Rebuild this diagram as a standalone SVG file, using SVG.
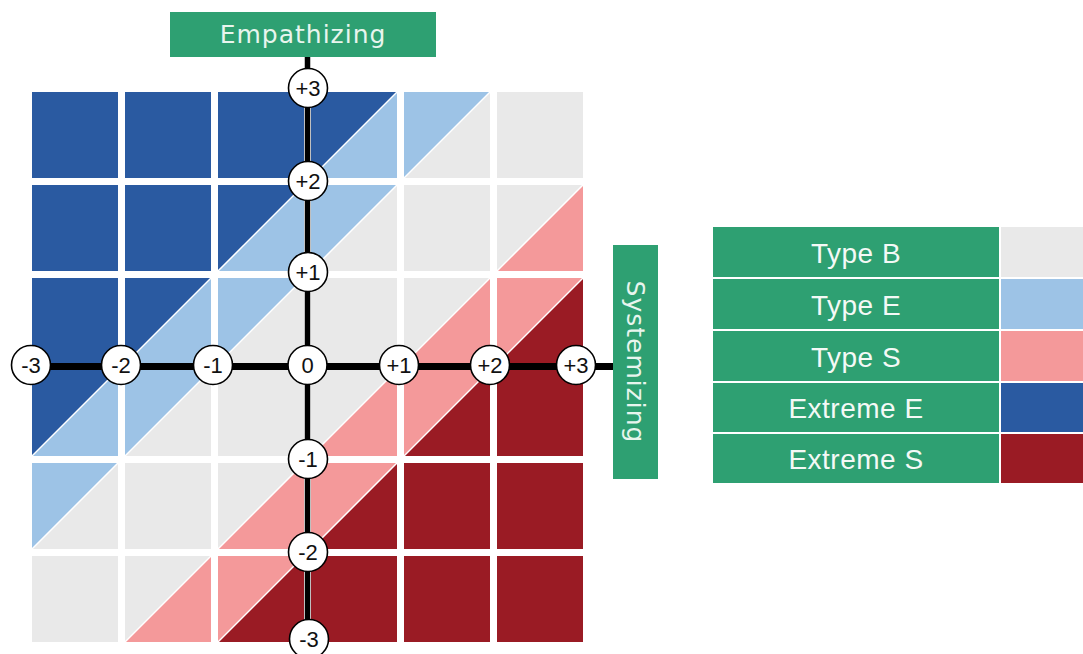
<svg xmlns="http://www.w3.org/2000/svg" width="1083" height="654" viewBox="0 0 1083 654">
<defs>
<style>
.db{fill:#2a5aa1}
.lb{fill:#9dc3e6}
.g{fill:#e9e9e9}
.p{fill:#f4999a}
.dr{fill:#9a1b24}
.diag{stroke:#ffffff;stroke-width:1.5}
.hdr{fill:#2ea072}
.hdrt{font-family:"DejaVu Sans",sans-serif;font-size:25px;fill:#e8f5ee;letter-spacing:1px;text-anchor:middle}
.ax{stroke:#000;fill:none}
.lbl circle{fill:#fff;stroke:#000;stroke-width:1.6}
.lbl text{font-family:"Liberation Sans",Arial,sans-serif;font-size:22px;fill:#111;text-anchor:middle}
.leg{fill:#2ea072}
.legt{font-family:"Liberation Sans",Arial,sans-serif;font-size:28px;fill:#f4f9f6;text-anchor:middle;letter-spacing:0.5px}
</style>
</defs>
<rect width="1083" height="654" fill="#ffffff"/>

<g id="grid">
<!-- row 0 -->
<rect class="db" x="32" y="92" width="86" height="86"/>
<rect class="db" x="125" y="92" width="86" height="86"/>
<rect class="db" x="218" y="92" width="86" height="86"/>
<rect class="lb" x="311" y="92" width="86" height="86"/><polygon class="db" points="311,92 397,92 311,178"/><line class="diag" x1="311" y1="178" x2="397" y2="92"/>
<rect class="g" x="404" y="92" width="86" height="86"/><polygon class="lb" points="404,92 490,92 404,178"/><line class="diag" x1="404" y1="178" x2="490" y2="92"/>
<rect class="g" x="497" y="92" width="86" height="86"/>
<!-- row 1 -->
<rect class="db" x="32" y="185" width="86" height="86"/>
<rect class="db" x="125" y="185" width="86" height="86"/>
<rect class="lb" x="218" y="185" width="86" height="86"/><polygon class="db" points="218,185 304,185 218,271"/><line class="diag" x1="218" y1="271" x2="304" y2="185"/>
<rect class="g" x="311" y="185" width="86" height="86"/><polygon class="lb" points="311,185 397,185 311,271"/><line class="diag" x1="311" y1="271" x2="397" y2="185"/>
<rect class="g" x="404" y="185" width="86" height="86"/>
<rect class="p" x="497" y="185" width="86" height="86"/><polygon class="g" points="497,185 583,185 497,271"/><line class="diag" x1="497" y1="271" x2="583" y2="185"/>
<!-- row 2 -->
<rect class="db" x="32" y="278" width="86" height="86"/>
<rect class="lb" x="125" y="278" width="86" height="86"/><polygon class="db" points="125,278 211,278 125,364"/><line class="diag" x1="125" y1="364" x2="211" y2="278"/>
<rect class="g" x="218" y="278" width="86" height="86"/><polygon class="lb" points="218,278 304,278 218,364"/><line class="diag" x1="218" y1="364" x2="304" y2="278"/>
<rect class="g" x="311" y="278" width="86" height="86"/>
<rect class="p" x="404" y="278" width="86" height="86"/><polygon class="g" points="404,278 490,278 404,364"/><line class="diag" x1="404" y1="364" x2="490" y2="278"/>
<rect class="dr" x="497" y="278" width="86" height="86"/><polygon class="p" points="497,278 583,278 497,364"/><line class="diag" x1="497" y1="364" x2="583" y2="278"/>
<!-- row 3 -->
<rect class="lb" x="32" y="370" width="86" height="86"/><polygon class="db" points="32,370 118,370 32,456"/><line class="diag" x1="32" y1="456" x2="118" y2="370"/>
<rect class="g" x="125" y="370" width="86" height="86"/><polygon class="lb" points="125,370 211,370 125,456"/><line class="diag" x1="125" y1="456" x2="211" y2="370"/>
<rect class="g" x="218" y="370" width="86" height="86"/>
<rect class="p" x="311" y="370" width="86" height="86"/><polygon class="g" points="311,370 397,370 311,456"/><line class="diag" x1="311" y1="456" x2="397" y2="370"/>
<rect class="dr" x="404" y="370" width="86" height="86"/><polygon class="p" points="404,370 490,370 404,456"/><line class="diag" x1="404" y1="456" x2="490" y2="370"/>
<rect class="dr" x="497" y="370" width="86" height="86"/>
<!-- row 4 -->
<rect class="g" x="32" y="463" width="86" height="86"/><polygon class="lb" points="32,463 118,463 32,549"/><line class="diag" x1="32" y1="549" x2="118" y2="463"/>
<rect class="g" x="125" y="463" width="86" height="86"/>
<rect class="p" x="218" y="463" width="86" height="86"/><polygon class="g" points="218,463 304,463 218,549"/><line class="diag" x1="218" y1="549" x2="304" y2="463"/>
<rect class="dr" x="311" y="463" width="86" height="86"/><polygon class="p" points="311,463 397,463 311,549"/><line class="diag" x1="311" y1="549" x2="397" y2="463"/>
<rect class="dr" x="404" y="463" width="86" height="86"/>
<rect class="dr" x="497" y="463" width="86" height="86"/>
<!-- row 5 -->
<rect class="g" x="32" y="556" width="86" height="86"/>
<rect class="p" x="125" y="556" width="86" height="86"/><polygon class="g" points="125,556 211,556 125,642"/><line class="diag" x1="125" y1="642" x2="211" y2="556"/>
<rect class="dr" x="218" y="556" width="86" height="86"/><polygon class="p" points="218,556 304,556 218,642"/><line class="diag" x1="218" y1="642" x2="304" y2="556"/>
<rect class="dr" x="311" y="556" width="86" height="86"/>
<rect class="dr" x="404" y="556" width="86" height="86"/>
<rect class="dr" x="497" y="556" width="86" height="86"/>
</g>

<g id="connectors">
<line class="ax" x1="307.5" y1="57" x2="307.5" y2="654" stroke-width="5.5"/>
<line class="ax" x1="32" y1="366.5" x2="613" y2="366.5" stroke-width="7"/>
</g>

<g id="empathizing">
<rect class="hdr" x="170" y="12" width="266" height="45"/>
<text class="hdrt" x="303" y="43">Empathizing</text>
</g>

<g id="systemizing">
<rect class="hdr" x="613" y="245" width="45" height="234"/>
<text class="hdrt" transform="translate(627,362) rotate(90)" x="0" y="0">Systemizing</text>
</g>

<g id="axis-labels" class="lbl">
<g id="v-p3"><circle cx="308" cy="88" r="19.5"/><text x="308" y="96">+3</text></g>
<g id="v-p2"><circle cx="308" cy="181" r="19.5"/><text x="308" y="189">+2</text></g>
<g id="v-p1"><circle cx="308" cy="272" r="19.5"/><text x="308" y="280">+1</text></g>
<g id="v-m1"><circle cx="308" cy="459" r="19.5"/><text x="308" y="467">-1</text></g>
<g id="v-m2"><circle cx="308" cy="552" r="19.5"/><text x="308" y="560">-2</text></g>
<g id="v-m3"><circle cx="309" cy="639" r="19.5"/><text x="309" y="647">-3</text></g>
<g id="h-m3"><circle cx="31" cy="365" r="19.5"/><text x="31" y="373">-3</text></g>
<g id="h-m2"><circle cx="121" cy="365" r="19.5"/><text x="121" y="373">-2</text></g>
<g id="h-m1"><circle cx="213" cy="365" r="19.5"/><text x="213" y="373">-1</text></g>
<g id="h-0"><circle cx="307.5" cy="365" r="19.5"/><text x="307.5" y="373">0</text></g>
<g id="h-p1"><circle cx="399" cy="365" r="19.5"/><text x="399" y="373">+1</text></g>
<g id="h-p2"><circle cx="490" cy="365" r="19.5"/><text x="490" y="373">+2</text></g>
<g id="h-p3"><circle cx="576" cy="365" r="19.5"/><text x="576" y="373">+3</text></g>
</g>

<g id="legend">
<g id="leg-typeb"><rect class="leg" x="713" y="227" width="286" height="50"/><rect class="g" x="1001" y="227" width="82" height="50"/><text class="legt" x="856" y="263">Type B</text></g>
<g id="leg-typee"><rect class="leg" x="713" y="279" width="286" height="50"/><rect class="lb" x="1001" y="279" width="82" height="50"/><text class="legt" x="856" y="315">Type E</text></g>
<g id="leg-types"><rect class="leg" x="713" y="331" width="286" height="50"/><rect class="p" x="1001" y="331" width="82" height="50"/><text class="legt" x="856" y="367">Type S</text></g>
<g id="leg-extremee"><rect class="leg" x="713" y="383" width="286" height="49"/><rect class="db" x="1001" y="383" width="82" height="49"/><text class="legt" x="856" y="418">Extreme E</text></g>
<g id="leg-extremes"><rect class="leg" x="713" y="434" width="286" height="49"/><rect class="dr" x="1001" y="434" width="82" height="49"/><text class="legt" x="856" y="469">Extreme S</text></g>
</g>
</svg>
